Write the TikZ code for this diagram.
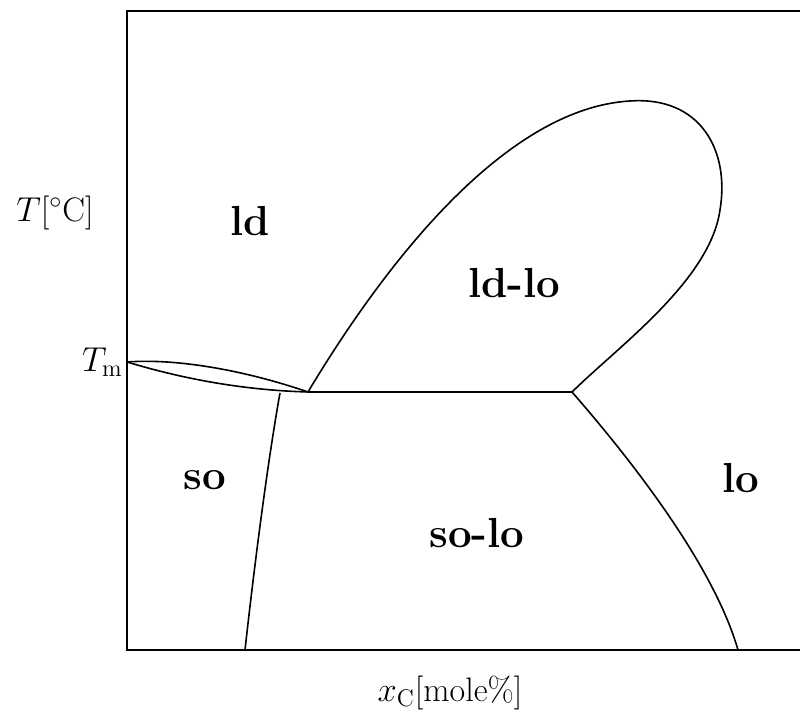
\documentclass[tikz,border=0pt]{standalone}
\usepackage{amsmath}
\begin{document}
\begin{tikzpicture}[x=0.5pt, y=-0.5pt,
  phase/.style={font=\fontsize{21}{24}\selectfont\bfseries},
  axislbl/.style={font=\fontsize{17}{20}\selectfont},
  bnd/.style={line width=0.8pt},
  frame/.style={line width=1.4pt}]
\useasboundingbox (0,0) rectangle (800,715);
% frame (open at the right)
\draw[frame] (800,11) -- (127,11) -- (127,650) -- (800,650);
% special points
\coordinate (Tm) at (127,362);
\coordinate (lensend) at (308,392);
\coordinate (sotop) at (280,393);
\coordinate (triple) at (572,392);
\coordinate (sobot) at (245,650);
\coordinate (lobot) at (738,650);
\coordinate (looptop) at (630,101);
\coordinate (loopright) at (720,210);
% lens between ld and so
\draw[bnd] (Tm) .. controls (180,358) and (250,372) .. (lensend);
\draw[bnd] (Tm) .. controls (180,378) and (240,390) .. (lensend);
% three-phase line
\draw[bnd] (lensend) -- (triple);
% ld-lo loop
\draw[bnd] (lensend) .. controls (392,252) and (510,108) .. (looptop)
  .. controls (700,96) and (730,150) .. (loopright)
  .. controls (710,280) and (620,345) .. (triple);
% so / so-lo boundary
\draw[bnd] (sotop) .. controls (268,460) and (255,560) .. (sobot);
% so-lo / lo boundary
\draw[bnd] (triple) .. controls (640,470) and (715,570) .. (lobot);
% phase labels
\node[phase] (ld) at (250,221) {ld};
\node[phase] (ldlo) at (514,283) {ld-lo};
\node[phase] (so) at (205,480) {so};
\node[phase] (solo) at (477,533) {so-lo};
\node[phase] (lo) at (741,478) {lo};
% axis labels
\node[axislbl] (ylbl) at (55,213) {$T$[$^\circ$C]};
\node[axislbl, anchor=east, inner sep=2pt] (tmlbl) at (Tm) {$T_{\mathrm{m}}$};
\node[axislbl] (xlbl) at (450,693) {$x_{\mathrm{C}}$[mole\%]};
\end{tikzpicture}
\end{document}
